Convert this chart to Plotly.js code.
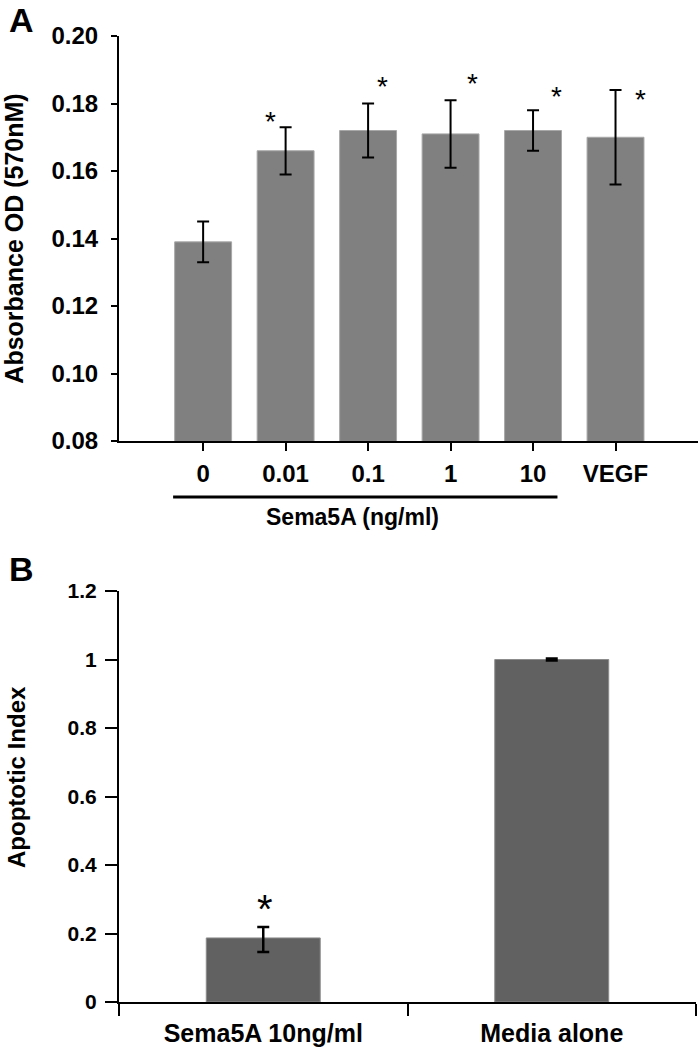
<!DOCTYPE html>
<html>
<head>
<meta charset="utf-8">
<script src="https://cdn.plot.ly/plotly-3.0.1.min.js"></script>
<style>html,body{margin:0;padding:0;background:#fff;}#chart{width:699px;height:1050px;}</style>
</head>
<body>
<div id="chart"></div>
<script>
// Panel A data
const catsA = ['0', '0.01', '0.1', '1', '10', 'VEGF'];
const absMean = [0.139, 0.166, 0.172, 0.171, 0.172, 0.170];
const absErr = [0.006, 0.007, 0.008, 0.010, 0.006, 0.014];
const absStarY = [null, 0.1776, 0.188, 0.189, 0.185, 0.184];
const absTicks = [0.08, 0.10, 0.12, 0.14, 0.16, 0.18, 0.20];

// Panel B data
const catsB = ['Sema5A 10ng/ml', 'Media alone'];
const apoMean = [0.187, 1.0];
const apoErrPlus = [0.032, 0.003];
const apoErrMinus = [0.041, 0.003];
const apoStarY = [0.289, null];
const apoTicks = [0, 0.2, 0.4, 0.6, 0.8, 1, 1.2];

const FONT = 'Arial, "Liberation Sans", sans-serif';
const starShiftA = [0, -15, 14, 22, 23, 25];

const traces = [
  {
    type: 'bar', x: catsA, y: absMean, xaxis: 'x', yaxis: 'y', width: 0.69,
    marker: {color: '#808080', line: {color: '#a8a8a8', width: 1}},
    error_y: {type: 'data', array: absErr, visible: true, color: '#000', thickness: 2, width: 6},
    hoverinfo: 'skip', showlegend: false
  },
  {
    type: 'bar', x: catsB, y: apoMean, xaxis: 'x2', yaxis: 'y2', width: 0.395,
    marker: {color: '#616161', line: {color: '#8c8c8c', width: 1}},
    error_y: {type: 'data', symmetric: false, array: apoErrPlus, arrayminus: apoErrMinus, visible: true, color: '#000', thickness: 2.5, width: 6},
    hoverinfo: 'skip', showlegend: false
  }
];

const annotations = [];
catsA.forEach((c, i) => {
  if (absStarY[i] !== null) {
    annotations.push({x: i, y: absStarY[i], xref: 'x', yref: 'y', text: '*', showarrow: false,
      xanchor: 'center', yanchor: 'middle',
      xshift: starShiftA[i], yshift: -10, font: {family: FONT, size: 28, color: '#000'}});
  }
});
catsB.forEach((c, i) => {
  if (apoStarY[i] !== null) {
    annotations.push({x: i, y: apoStarY[i], xref: 'x2', yref: 'y2', text: '*', showarrow: false,
      xanchor: 'center', yanchor: 'middle',
      xshift: 2, yshift: -6, font: {family: FONT, size: 40, color: '#000'}});
  }
});
annotations.push(
  {x: 21 / 699, y: 1 - 20 / 1050, xref: 'paper', yref: 'paper', text: 'A', showarrow: false,
   xanchor: 'center', yanchor: 'middle', font: {family: FONT, size: 34, color: '#000', weight: 700}},
  {x: 21 / 699, y: 1 - 569 / 1050, xref: 'paper', yref: 'paper', text: 'B', showarrow: false,
   xanchor: 'center', yanchor: 'middle', font: {family: FONT, size: 34, color: '#000', weight: 700}},
  {x: 353 / 699, y: 1 - 517 / 1050, xref: 'paper', yref: 'paper', text: 'Sema5A (ng/ml)', showarrow: false,
   xanchor: 'center', yanchor: 'middle', font: {family: FONT, size: 23, color: '#000', weight: 700}},
  {x: 16 / 699, y: 1 - 777 / 1050, xref: 'paper', yref: 'paper', text: 'Apoptotic Index', showarrow: false,
   textangle: -90, xanchor: 'center', yanchor: 'middle', font: {family: FONT, size: 24, color: '#000', weight: 700}}
);

const axLine = {showline: true, linecolor: '#000', linewidth: 2, ticks: 'outside', tickcolor: '#000', tickwidth: 2,
  showgrid: false, zeroline: false, fixedrange: true};

const layout = {
  width: 699, height: 1050,
  margin: {l: 0, r: 0, t: 0, b: 0},
  paper_bgcolor: '#fff', plot_bgcolor: '#fff',
  showlegend: false,
  font: {family: FONT, color: '#000'},
  xaxis: Object.assign({}, axLine, {
    domain: [119 / 699, 698 / 699], anchor: 'y', type: 'category', range: [-1.02, 6.0],
    ticklen: 8, tickfont: {family: FONT, size: 24, weight: 700}, ticklabelstandoff: 2
  }),
  yaxis: Object.assign({}, axLine, {
    domain: [1 - 441 / 1050, 1 - 36 / 1050], anchor: 'x', range: [0.08, 0.20],
    tickvals: absTicks, tickformat: '.2f', ticklen: 6,
    tickfont: {family: FONT, size: 24, weight: 700}, ticklabelstandoff: 8,
    title: {text: 'Absorbance OD (570nM)', font: {family: FONT, size: 25, weight: 700}, standoff: 22}
  }),
  xaxis2: Object.assign({}, axLine, {
    domain: [119 / 699, 696 / 699], anchor: 'y2', type: 'category', range: [-0.5, 1.5],
    tickson: 'boundaries', ticklen: 12, tickfont: {family: FONT, size: 25, weight: 700}, ticklabelstandoff: 8
  }),
  yaxis2: Object.assign({}, axLine, {
    domain: [1 - 1002 / 1050, 1 - 591 / 1050], anchor: 'x2', range: [0, 1.2],
    tickvals: apoTicks, ticklen: 12,
    tickfont: {family: FONT, size: 21, weight: 700}, ticklabelstandoff: 4
  }),
  shapes: [
    {type: 'line', xref: 'x', yref: 'paper', x0: -0.364, x1: 4.296,
     y0: 1 - 497 / 1050, y1: 1 - 497 / 1050, line: {color: '#000', width: 3}}
  ],
  annotations: annotations
};

Plotly.newPlot('chart', traces, layout, {displayModeBar: false, staticPlot: true});
</script>
</body>
</html>
